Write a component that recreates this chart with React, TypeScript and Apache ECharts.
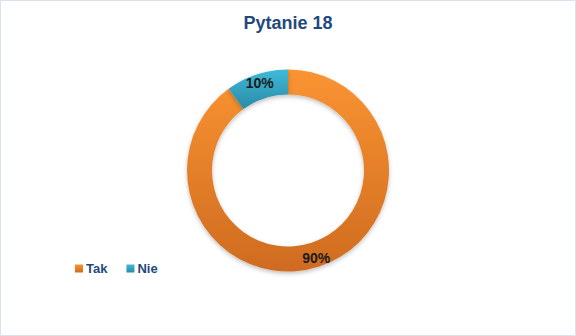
import React, { useEffect, useRef } from "react";
import * as echarts from "echarts";

const title = "Pytanie 18";
const categories = ["Tak", "Nie"];
const values = [90, 10];

const grad = (top: string, bottom: string) =>
  new echarts.graphic.LinearGradient(0, 0, 0, 1, [
    { offset: 0, color: top },
    { offset: 1, color: bottom },
  ]);

export default function App() {
  const ref = useRef<HTMLDivElement>(null);
  useEffect(() => {
    document.body.style.margin = "0";
    const chart = echarts.init(ref.current!, undefined, { renderer: "svg" });
    const colors = [grad("#fa9432", "#cf6b20"), grad("#3fbada", "#2a8aa6")];
    chart.setOption({
      animation: false,
      backgroundColor: "#ffffff",
      title: {
        text: title,
        left: "center",
        top: 9,
        textStyle: {
          fontFamily: "Liberation Sans",
          fontWeight: "bold",
          fontSize: 18,
          color: "#1f497d",
        },
      },
      legend: {
        left: 70,
        top: 257,
        icon: "rect",
        itemWidth: 8,
        itemHeight: 8,
        itemGap: 19,
        data: categories,
        textStyle: {
          fontFamily: "Liberation Sans",
          fontWeight: "bold",
          fontSize: 13,
          color: "#1f497d",
          padding: [0, 0, 0, -2],
        },
      },
      graphic: [
        {
          type: "rect",
          shape: { x: 0.5, y: 0.5, width: 575, height: 335 },
          style: { fill: "none", stroke: "#d9e1ee", lineWidth: 1 },
          silent: true,
        },
      ],
      series: [
        {
          type: "pie",
          center: [288, 170.5],
          radius: [76, 101],
          startAngle: 90,
          clockwise: true,
          label: {
            show: true,
            position: "inside",
            formatter: "{d}%",
            fontFamily: "Liberation Sans",
            fontWeight: "bold",
            fontSize: 14,
            color: "#1a1a1a",
          },
          labelLine: { show: false },
          itemStyle: {
            shadowBlur: 4,
            shadowOffsetY: 2,
            shadowColor: "rgba(0,0,0,0.25)",
          },
          data: categories.map((name, i) => ({
            name,
            value: values[i],
            itemStyle: { color: colors[i] },
          })),
        },
      ],
    });
    return () => chart.dispose();
  }, []);
  return (
    <div
      ref={ref}
      style={{ width: 576, height: 336, position: "absolute", left: 0, top: 0 }}
    />
  );
}
